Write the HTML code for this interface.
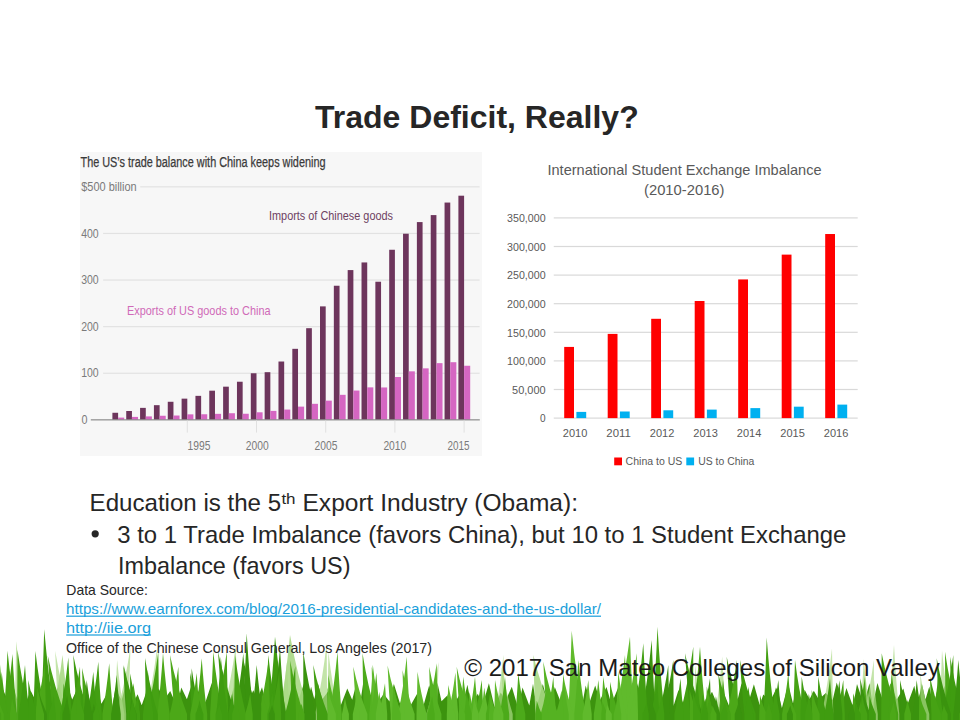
<!DOCTYPE html>
<html><head><meta charset="utf-8"><style>
html,body{margin:0;padding:0;background:#fff;}
svg{display:block;}
text{font-family:"Liberation Sans",sans-serif;white-space:pre;}
</style></head><body>
<svg width="960" height="720" viewBox="0 0 960 720">
<rect width="960" height="720" fill="#ffffff"/>
<text x="315.00" y="127.80" font-size="32" fill="#262626" font-weight="700" text-anchor="start">Trade Deficit, Really?</text>
<rect x="80" y="152" width="402" height="304" fill="#f7f7f7"/>
<text x="80.50" y="167.30" font-size="14" fill="#3a3a3a" font-weight="400" text-anchor="start" textLength="245.0" lengthAdjust="spacingAndGlyphs" stroke="#3a3a3a" stroke-width="0.25">The US&#8217;s trade balance with China keeps widening</text>
<rect x="103.1" y="372.65" width="376.5" height="1.2" fill="#e2e2e2"/>
<rect x="103.1" y="326.05" width="376.5" height="1.2" fill="#e2e2e2"/>
<rect x="103.1" y="279.45" width="376.5" height="1.2" fill="#e2e2e2"/>
<rect x="103.1" y="232.85" width="376.5" height="1.2" fill="#e2e2e2"/>
<rect x="140.2" y="186.25" width="339.4" height="1.2" fill="#e2e2e2"/>
<text x="81.20" y="191.30" font-size="12.6" fill="#7a7a7a" font-weight="400" text-anchor="start" textLength="55.5" lengthAdjust="spacingAndGlyphs">$500 billion</text>
<text x="81.20" y="237.65" font-size="12.6" fill="#7a7a7a" font-weight="400" text-anchor="start" textLength="17.5" lengthAdjust="spacingAndGlyphs">400</text>
<text x="81.20" y="284.25" font-size="12.6" fill="#7a7a7a" font-weight="400" text-anchor="start" textLength="17.5" lengthAdjust="spacingAndGlyphs">300</text>
<text x="81.20" y="330.85" font-size="12.6" fill="#7a7a7a" font-weight="400" text-anchor="start" textLength="17.5" lengthAdjust="spacingAndGlyphs">200</text>
<text x="81.20" y="377.45" font-size="12.6" fill="#7a7a7a" font-weight="400" text-anchor="start" textLength="17.5" lengthAdjust="spacingAndGlyphs">100</text>
<text x="81.50" y="423.65" font-size="12.6" fill="#7a7a7a" font-weight="400" text-anchor="start" textLength="6.0" lengthAdjust="spacingAndGlyphs">0</text>
<rect x="112.40" y="412.77" width="5.7" height="7.08" fill="#6d355c"/>
<rect x="118.10" y="417.61" width="6.1" height="2.24" fill="#d566c2"/>
<rect x="126.24" y="411.00" width="5.7" height="8.85" fill="#6d355c"/>
<rect x="131.94" y="416.91" width="6.1" height="2.94" fill="#d566c2"/>
<rect x="140.08" y="407.87" width="5.7" height="11.98" fill="#6d355c"/>
<rect x="145.78" y="416.40" width="6.1" height="3.45" fill="#d566c2"/>
<rect x="153.92" y="405.17" width="5.7" height="14.68" fill="#6d355c"/>
<rect x="159.62" y="415.75" width="6.1" height="4.10" fill="#d566c2"/>
<rect x="167.76" y="401.77" width="5.7" height="18.08" fill="#6d355c"/>
<rect x="173.46" y="415.52" width="6.1" height="4.33" fill="#d566c2"/>
<rect x="181.60" y="398.65" width="5.7" height="21.20" fill="#6d355c"/>
<rect x="187.30" y="414.35" width="6.1" height="5.50" fill="#d566c2"/>
<rect x="195.44" y="395.85" width="5.7" height="24.00" fill="#6d355c"/>
<rect x="201.14" y="414.26" width="6.1" height="5.59" fill="#d566c2"/>
<rect x="209.28" y="390.68" width="5.7" height="29.17" fill="#6d355c"/>
<rect x="214.98" y="413.84" width="6.1" height="6.01" fill="#d566c2"/>
<rect x="223.12" y="386.67" width="5.7" height="33.18" fill="#6d355c"/>
<rect x="228.82" y="413.23" width="6.1" height="6.62" fill="#d566c2"/>
<rect x="236.96" y="381.73" width="5.7" height="38.12" fill="#6d355c"/>
<rect x="242.66" y="413.75" width="6.1" height="6.10" fill="#d566c2"/>
<rect x="250.80" y="373.25" width="5.7" height="46.60" fill="#6d355c"/>
<rect x="256.50" y="412.30" width="6.1" height="7.55" fill="#d566c2"/>
<rect x="264.64" y="372.18" width="5.7" height="47.67" fill="#6d355c"/>
<rect x="270.34" y="410.90" width="6.1" height="8.95" fill="#d566c2"/>
<rect x="278.48" y="361.51" width="5.7" height="58.34" fill="#6d355c"/>
<rect x="284.18" y="409.55" width="6.1" height="10.30" fill="#d566c2"/>
<rect x="292.32" y="348.83" width="5.7" height="71.02" fill="#6d355c"/>
<rect x="298.02" y="406.62" width="6.1" height="13.23" fill="#d566c2"/>
<rect x="306.16" y="328.19" width="5.7" height="91.66" fill="#6d355c"/>
<rect x="311.86" y="403.82" width="6.1" height="16.03" fill="#d566c2"/>
<rect x="320.00" y="306.38" width="5.7" height="113.47" fill="#6d355c"/>
<rect x="325.70" y="400.65" width="6.1" height="19.20" fill="#d566c2"/>
<rect x="333.84" y="285.74" width="5.7" height="134.11" fill="#6d355c"/>
<rect x="339.54" y="394.83" width="6.1" height="25.02" fill="#d566c2"/>
<rect x="347.68" y="270.08" width="5.7" height="149.77" fill="#6d355c"/>
<rect x="353.38" y="390.54" width="6.1" height="29.31" fill="#d566c2"/>
<rect x="361.52" y="262.44" width="5.7" height="157.41" fill="#6d355c"/>
<rect x="367.22" y="387.37" width="6.1" height="32.48" fill="#d566c2"/>
<rect x="375.36" y="281.73" width="5.7" height="138.12" fill="#6d355c"/>
<rect x="381.06" y="387.46" width="6.1" height="32.39" fill="#d566c2"/>
<rect x="389.20" y="249.76" width="5.7" height="170.09" fill="#6d355c"/>
<rect x="394.90" y="377.02" width="6.1" height="42.83" fill="#d566c2"/>
<rect x="403.04" y="233.73" width="5.7" height="186.12" fill="#6d355c"/>
<rect x="408.74" y="371.34" width="6.1" height="48.51" fill="#d566c2"/>
<rect x="416.88" y="222.08" width="5.7" height="197.77" fill="#6d355c"/>
<rect x="422.58" y="368.36" width="6.1" height="51.49" fill="#d566c2"/>
<rect x="430.72" y="215.09" width="5.7" height="204.76" fill="#6d355c"/>
<rect x="436.42" y="363.14" width="6.1" height="56.71" fill="#d566c2"/>
<rect x="444.56" y="202.55" width="5.7" height="217.30" fill="#6d355c"/>
<rect x="450.26" y="362.21" width="6.1" height="57.64" fill="#d566c2"/>
<rect x="458.40" y="195.70" width="5.7" height="224.15" fill="#6d355c"/>
<rect x="464.10" y="365.75" width="6.1" height="54.10" fill="#d566c2"/>
<rect x="90.8" y="419.25" width="389" height="1.2" fill="#8c8c8c"/>
<rect x="186.80" y="420.55" width="1" height="12" fill="#e0e0e0"/>
<rect x="256.00" y="420.55" width="1" height="12" fill="#e0e0e0"/>
<rect x="325.20" y="420.55" width="1" height="12" fill="#e0e0e0"/>
<rect x="394.40" y="420.55" width="1" height="12" fill="#e0e0e0"/>
<rect x="463.60" y="420.55" width="1" height="12" fill="#e0e0e0"/>
<text x="187.50" y="450.40" font-size="12.6" fill="#7a7a7a" font-weight="400" text-anchor="start" textLength="22.9" lengthAdjust="spacingAndGlyphs">1995</text>
<text x="245.80" y="450.40" font-size="12.6" fill="#7a7a7a" font-weight="400" text-anchor="start" textLength="22.9" lengthAdjust="spacingAndGlyphs">2000</text>
<text x="314.60" y="450.40" font-size="12.6" fill="#7a7a7a" font-weight="400" text-anchor="start" textLength="22.9" lengthAdjust="spacingAndGlyphs">2005</text>
<text x="383.40" y="450.40" font-size="12.6" fill="#7a7a7a" font-weight="400" text-anchor="start" textLength="22.9" lengthAdjust="spacingAndGlyphs">2010</text>
<text x="447.60" y="450.40" font-size="12.6" fill="#7a7a7a" font-weight="400" text-anchor="start" textLength="22.0" lengthAdjust="spacingAndGlyphs">2015</text>
<text x="269.00" y="220.10" font-size="13.4" fill="#6e4262" font-weight="400" text-anchor="start" textLength="124.0" lengthAdjust="spacingAndGlyphs">Imports of Chinese goods</text>
<text x="127.00" y="315.00" font-size="13.4" fill="#d06ab8" font-weight="400" text-anchor="start" textLength="143.5" lengthAdjust="spacingAndGlyphs">Exports of US goods to China</text>
<rect x="553.75" y="417.50" width="303.95" height="1.2" fill="#d9d9d9"/>
<text x="545.60" y="422.40" font-size="11.3" fill="#595959" font-weight="400" text-anchor="end" textLength="5.6" lengthAdjust="spacingAndGlyphs">0</text>
<rect x="553.75" y="388.90" width="303.95" height="1.2" fill="#d9d9d9"/>
<text x="545.60" y="393.80" font-size="11.3" fill="#595959" font-weight="400" text-anchor="end" textLength="33.5" lengthAdjust="spacingAndGlyphs">50,000</text>
<rect x="553.75" y="360.30" width="303.95" height="1.2" fill="#d9d9d9"/>
<text x="545.60" y="365.20" font-size="11.3" fill="#595959" font-weight="400" text-anchor="end" textLength="38.5" lengthAdjust="spacingAndGlyphs">100,000</text>
<rect x="553.75" y="331.70" width="303.95" height="1.2" fill="#d9d9d9"/>
<text x="545.60" y="336.60" font-size="11.3" fill="#595959" font-weight="400" text-anchor="end" textLength="38.5" lengthAdjust="spacingAndGlyphs">150,000</text>
<rect x="553.75" y="303.10" width="303.95" height="1.2" fill="#d9d9d9"/>
<text x="545.60" y="308.00" font-size="11.3" fill="#595959" font-weight="400" text-anchor="end" textLength="38.5" lengthAdjust="spacingAndGlyphs">200,000</text>
<rect x="553.75" y="274.50" width="303.95" height="1.2" fill="#d9d9d9"/>
<text x="545.60" y="279.40" font-size="11.3" fill="#595959" font-weight="400" text-anchor="end" textLength="38.5" lengthAdjust="spacingAndGlyphs">250,000</text>
<rect x="553.75" y="245.90" width="303.95" height="1.2" fill="#d9d9d9"/>
<text x="545.60" y="250.80" font-size="11.3" fill="#595959" font-weight="400" text-anchor="end" textLength="38.5" lengthAdjust="spacingAndGlyphs">300,000</text>
<rect x="553.75" y="217.30" width="303.95" height="1.2" fill="#d9d9d9"/>
<text x="545.60" y="222.20" font-size="11.3" fill="#595959" font-weight="400" text-anchor="end" textLength="38.5" lengthAdjust="spacingAndGlyphs">350,000</text>
<text x="547.50" y="175.40" font-size="14.5" fill="#595959" font-weight="400" text-anchor="start" textLength="274.0" lengthAdjust="spacingAndGlyphs">International Student Exchange Imbalance</text>
<text x="644.00" y="194.80" font-size="14.5" fill="#595959" font-weight="400" text-anchor="start" textLength="80.5" lengthAdjust="spacingAndGlyphs">(2010-2016)</text>
<rect x="564.20" y="346.92" width="9.8" height="71.18" fill="#ff0000"/>
<rect x="576.40" y="411.90" width="9.8" height="6.20" fill="#00b0f0"/>
<text x="575.10" y="437.30" font-size="11.3" fill="#595959" font-weight="400" text-anchor="middle" textLength="24.5" lengthAdjust="spacingAndGlyphs">2010</text>
<rect x="607.70" y="333.89" width="9.8" height="84.21" fill="#ff0000"/>
<rect x="619.90" y="411.50" width="9.8" height="6.60" fill="#00b0f0"/>
<text x="618.60" y="437.30" font-size="11.3" fill="#595959" font-weight="400" text-anchor="middle" textLength="24.5" lengthAdjust="spacingAndGlyphs">2011</text>
<rect x="651.20" y="318.80" width="9.8" height="99.30" fill="#ff0000"/>
<rect x="663.40" y="410.29" width="9.8" height="7.81" fill="#00b0f0"/>
<text x="662.10" y="437.30" font-size="11.3" fill="#595959" font-weight="400" text-anchor="middle" textLength="24.5" lengthAdjust="spacingAndGlyphs">2012</text>
<rect x="694.70" y="301.00" width="9.8" height="117.10" fill="#ff0000"/>
<rect x="706.90" y="409.60" width="9.8" height="8.50" fill="#00b0f0"/>
<text x="705.60" y="437.30" font-size="11.3" fill="#595959" font-weight="400" text-anchor="middle" textLength="24.5" lengthAdjust="spacingAndGlyphs">2013</text>
<rect x="738.20" y="279.42" width="9.8" height="138.68" fill="#ff0000"/>
<rect x="750.40" y="408.11" width="9.8" height="9.99" fill="#00b0f0"/>
<text x="749.10" y="437.30" font-size="11.3" fill="#595959" font-weight="400" text-anchor="middle" textLength="24.5" lengthAdjust="spacingAndGlyphs">2014</text>
<rect x="781.70" y="254.62" width="9.8" height="163.48" fill="#ff0000"/>
<rect x="793.90" y="406.68" width="9.8" height="11.42" fill="#00b0f0"/>
<text x="792.60" y="437.30" font-size="11.3" fill="#595959" font-weight="400" text-anchor="middle" textLength="24.5" lengthAdjust="spacingAndGlyphs">2015</text>
<rect x="825.20" y="234.02" width="9.8" height="184.08" fill="#ff0000"/>
<rect x="837.40" y="404.61" width="9.8" height="13.49" fill="#00b0f0"/>
<text x="836.10" y="437.30" font-size="11.3" fill="#595959" font-weight="400" text-anchor="middle" textLength="24.5" lengthAdjust="spacingAndGlyphs">2016</text>
<rect x="614.2" y="457.5" width="7.8" height="7.8" fill="#ff0000"/>
<text x="625.60" y="465.40" font-size="11.7" fill="#595959" font-weight="400" text-anchor="start" textLength="56.8" lengthAdjust="spacingAndGlyphs">China to US</text>
<rect x="686.3" y="457.5" width="7.8" height="7.8" fill="#00b0f0"/>
<text x="698.30" y="465.40" font-size="11.7" fill="#595959" font-weight="400" text-anchor="start" textLength="56.0" lengthAdjust="spacingAndGlyphs">US to China</text>
<text x="89.60" y="511.25" font-size="24.8" fill="#262626" font-weight="400" text-anchor="start" textLength="191.5" lengthAdjust="spacingAndGlyphs">Education is the 5</text>
<text x="281.40" y="504.40" font-size="15.5" fill="#262626" font-weight="400" text-anchor="start" textLength="14.2" lengthAdjust="spacingAndGlyphs">th</text>
<text x="302.50" y="511.25" font-size="24.8" fill="#262626" font-weight="400" text-anchor="start" textLength="275.5" lengthAdjust="spacingAndGlyphs">Export Industry (Obama):</text>
<circle cx="95.2" cy="533.8" r="3.6" fill="#262626"/>
<text x="117.30" y="542.50" font-size="24.8" fill="#262626" font-weight="400" text-anchor="start" textLength="729.0" lengthAdjust="spacingAndGlyphs">3 to 1 Trade Imbalance (favors China), but 10 to 1 Student Exchange</text>
<text x="118.00" y="573.75" font-size="24.8" fill="#262626" font-weight="400" text-anchor="start" textLength="232.5" lengthAdjust="spacingAndGlyphs">Imbalance (favors US)</text>
<text x="66.30" y="595.30" font-size="14.5" fill="#262626" font-weight="400" text-anchor="start" textLength="81.5" lengthAdjust="spacingAndGlyphs">Data Source:</text>
<text x="66.00" y="614.00" font-size="14.5" fill="#1a9fdb" font-weight="400" text-anchor="start" textLength="535.0" lengthAdjust="spacingAndGlyphs">https://www.earnforex.com/blog/2016-presidential-candidates-and-the-us-dollar/</text>
<rect x="66.2" y="615.6" width="534.8" height="1.2" fill="#1a9fdb"/>
<text x="66.00" y="632.80" font-size="14.5" fill="#1a9fdb" font-weight="400" text-anchor="start" textLength="85.0" lengthAdjust="spacingAndGlyphs">http://iie.org</text>
<rect x="66.2" y="634.4" width="84.8" height="1.2" fill="#1a9fdb"/>
<g>
<polygon points="0,720 -4.0,686.5 -0.4,704.9 2.9,689.5 7.4,699.5 12.4,682.5 17.1,699.6 20.5,687.9 26.8,700.1 30.7,690.8 37.5,704.2 42.1,695.7 45.2,706.7 49.4,684.0 52.9,701.8 59.1,684.5 64.5,704.8 69.0,689.7 72.2,699.5 76.0,691.5 80.7,701.8 86.1,688.3 90.3,706.1 96.1,685.4 101.4,703.7 107.9,692.2 112.0,707.8 115.5,687.9 121.5,700.4 126.5,682.5 132.2,705.9 137.5,694.3 141.7,705.3 147.1,690.1 151.9,706.6 158.7,688.6 164.3,699.5 170.2,691.1 177.1,706.4 181.3,687.4 186.9,699.2 191.8,684.4 195.3,699.5 201.3,683.8 205.3,702.5 211.8,683.1 216.6,703.9 223.1,693.5 229.6,701.5 234.2,687.0 240.8,707.6 244.4,684.5 248.3,701.1 253.3,690.2 257.3,699.0 262.0,687.2 267.2,707.6 273.0,689.2 278.5,705.1 281.7,694.6 287.8,706.9 294.0,687.5 298.6,699.9 304.1,682.9 307.4,700.9 311.1,686.8 314.3,699.0 317.9,683.4 322.3,699.2 328.8,690.6 332.4,701.3 336.8,687.1 340.3,706.6 347.3,688.5 352.2,699.8 355.6,686.8 359.7,706.5 363.3,682.3 370.1,703.8 373.7,689.6 376.8,703.8 383.7,694.1 389.5,701.4 394.0,684.3 400.1,703.8 406.2,686.6 410.1,706.3 417.0,693.9 423.2,706.4 429.2,685.2 434.3,702.2 437.4,682.4 441.5,701.3 447.3,695.4 452.1,707.4 459.0,695.4 463.5,701.0 467.4,684.8 471.2,704.6 477.8,693.8 482.7,704.9 488.9,683.2 494.6,707.2 500.7,692.5 505.6,700.6 511.8,686.7 518.0,707.7 522.5,687.6 529.3,705.5 533.0,683.8 536.6,707.1 542.8,684.0 549.2,707.8 554.8,686.9 560.0,700.2 563.0,695.6 568.6,703.7 575.4,688.1 581.9,706.4 585.7,685.5 589.9,701.2 595.2,685.6 599.9,700.2 606.5,687.0 611.4,704.3 618.0,687.9 624.7,703.5 629.8,689.3 632.9,703.0 636.6,682.1 642.8,700.6 647.7,692.2 652.9,701.9 658.0,689.8 664.1,700.0 669.4,685.5 673.5,706.0 678.5,689.9 684.5,707.2 689.3,690.6 694.3,703.6 700.1,688.3 705.2,703.3 712.0,691.8 718.5,707.5 722.5,689.8 729.3,706.6 732.9,683.7 737.6,699.7 741.6,683.0 747.3,706.1 753.9,684.2 759.7,704.9 763.3,694.4 770.2,701.0 777.0,687.6 781.9,707.9 788.3,684.3 793.0,703.6 797.3,684.7 801.6,705.5 804.7,689.8 809.5,699.2 813.8,690.7 818.8,699.6 825.8,693.0 832.7,699.9 836.7,682.6 842.8,701.4 846.4,687.9 853.0,706.4 857.0,684.1 863.7,704.1 869.5,683.3 872.7,705.2 877.4,683.0 884.2,704.7 890.4,683.2 896.8,699.6 903.3,688.4 907.6,704.0 914.3,685.8 917.9,703.7 921.8,683.5 925.5,699.5 929.3,686.4 933.5,705.8 937.6,689.0 941.4,702.1 944.4,685.5 947.5,705.6 952.7,684.7 957.6,707.4 961.0,693.5 965.7,703.5 964,720" fill="#3c930e"/>
<path d="M887.5,720 L887.5,714 Q891.4,683.0 894.0,645.1 Q896.1,683.0 899.3,714 L899.3,720Z" fill="#a9d884" fill-opacity="0.7"/>
<path d="M327.2,720 L327.2,714 Q327.9,686.1 328.4,651.9 Q332.4,686.1 338.4,714 L338.4,720Z" fill="#a9d884" fill-opacity="0.7"/>
<path d="M939.3,720 L939.3,714 Q940.9,685.4 942.0,650.4 Q945.5,685.4 950.7,714 L950.7,720Z" fill="#a9d884" fill-opacity="0.7"/>
<path d="M280.1,720 L280.1,714 Q284.1,690.7 286.8,662.3 Q288.2,690.7 290.3,714 L290.3,720Z" fill="#a9d884" fill-opacity="0.7"/>
<path d="M145.5,720 L145.5,714 Q152.6,683.6 157.3,646.5 Q157.3,683.6 157.3,714 L157.3,720Z" fill="#a9d884" fill-opacity="0.7"/>
<path d="M864.0,720 L864.0,714 Q869.9,689.6 873.8,659.9 Q874.0,689.6 874.4,714 L874.4,720Z" fill="#a9d884" fill-opacity="0.7"/>
<path d="M869.4,720 L869.4,714 Q872.2,698.6 874.1,679.9 Q875.5,698.6 877.8,714 L877.8,720Z" fill="#a9d884" fill-opacity="0.7"/>
<path d="M116.5,720 L116.5,714 Q124.8,684.2 130.4,647.7 Q129.5,684.2 128.1,714 L128.1,720Z" fill="#a9d884" fill-opacity="0.7"/>
<path d="M315.2,720 L315.2,714 Q322.1,682.3 326.7,643.6 Q326.9,682.3 327.2,714 L327.2,720Z" fill="#a9d884" fill-opacity="0.7"/>
<path d="M246.5,720 L246.5,714 Q246.0,691.0 245.6,662.8 Q250.0,691.0 256.6,714 L256.6,720Z" fill="#a9d884" fill-opacity="0.7"/>
<path d="M715.3,720 L715.3,714 Q719.4,688.1 722.2,656.5 Q723.7,688.1 726.1,714 L726.1,720Z" fill="#a9d884" fill-opacity="0.7"/>
<path d="M495.1,720 L495.1,714 Q500.1,687.5 503.4,655.1 Q504.5,687.5 506.0,714 L506.0,720Z" fill="#a9d884" fill-opacity="0.7"/>
<path d="M58.4,720 L58.4,714 Q56.5,685.7 55.2,651.1 Q61.0,685.7 69.7,714 L69.7,720Z" fill="#a9d884" fill-opacity="0.7"/>
<path d="M114.0,720 L114.0,714 Q115.9,689.8 117.1,660.1 Q120.0,689.8 124.4,714 L124.4,720Z" fill="#a9d884" fill-opacity="0.7"/>
<path d="M821.7,720 L821.7,714 Q827.9,684.6 832.0,648.6 Q832.5,684.6 833.3,714 L833.3,720Z" fill="#a9d884" fill-opacity="0.7"/>
<path d="M229.7,720 L229.7,714 Q233.5,687.9 236.0,656.0 Q237.8,687.9 240.5,714 L240.5,720Z" fill="#a9d884" fill-opacity="0.7"/>
<path d="M920.3,720 L920.3,714 Q920.3,696.0 920.3,673.9 Q923.9,696.0 929.3,714 L929.3,720Z" fill="#a9d884" fill-opacity="0.7"/>
<path d="M14.6,720 L14.6,714 Q15.5,681.3 16.2,641.3 Q20.4,681.3 26.9,714 L26.9,720Z" fill="#a9d884" fill-opacity="0.7"/>
<path d="M860.0,720 L860.0,714 Q862.3,689.2 863.8,658.9 Q866.5,689.2 870.5,714 L870.5,720Z" fill="#a9d884" fill-opacity="0.7"/>
<path d="M-2.8,720 L-2.8,714 Q-4.0,687.7 -4.8,655.7 Q0.3,687.7 8.1,714 L8.1,720Z" fill="#a9d884" fill-opacity="0.7"/>
<path d="M797.0,720 L797.0,714 Q796.3,696.1 795.8,674.2 Q799.9,696.1 805.9,714 L805.9,720Z" fill="#a9d884" fill-opacity="0.7"/>
<path d="M222.8,720 L222.8,714 Q230.7,682.7 236.0,644.4 Q235.5,682.7 234.8,714 L234.8,720Z" fill="#a9d884" fill-opacity="0.7"/>
<path d="M503.0,720 L503.0,714 Q502.2,693.0 501.7,667.3 Q506.1,693.0 512.7,714 L512.7,720Z" fill="#a9d884" fill-opacity="0.7"/>
<path d="M694.0,720 L694.0,714 Q694.6,692.4 695.1,665.9 Q698.6,692.4 703.8,714 L703.8,720Z" fill="#a9d884" fill-opacity="0.7"/>
<path d="M426.3,720 L426.3,714 Q433.7,690.6 438.6,662.1 Q437.8,690.6 436.5,714 L436.5,720Z" fill="#a9d884" fill-opacity="0.7"/>
<path d="M652.5,720 L652.5,714 Q655.5,674.7 657.5,626.7 Q660.3,674.7 664.5,714 L664.5,720Z" fill="#46a214"/>
<path d="M41.0,720 L41.0,714 Q42.9,675.8 44.2,629.2 Q48.3,675.8 54.5,714 L54.5,720Z" fill="#3f9c10"/>
<path d="M568.1,720 L568.1,714 Q570.3,676.6 571.7,630.8 Q576.3,676.6 583.1,714 L583.1,720Z" fill="#60ba2c"/>
<path d="M242.5,720 L242.5,714 Q245.0,677.7 246.7,633.3 Q249.4,677.7 253.5,714 L253.5,720Z" fill="#3a930e"/>
<path d="M279.4,720 L279.4,714 Q285.8,678.5 290.0,635.0 Q297.9,678.5 309.8,714 L309.8,720Z" fill="#a9d884" fill-opacity="0.9"/>
<path d="M268.5,720 L268.5,714 Q272.4,679.2 275.0,636.7 Q279.5,679.2 286.4,714 L286.4,720Z" fill="#3f9c10"/>
<path d="M615.6,720 L615.6,714 Q624.3,679.2 630.0,636.7 Q631.4,679.2 633.5,714 L633.5,720Z" fill="#60ba2c"/>
<path d="M763.5,720 L763.5,714 Q765.4,679.6 766.7,637.5 Q769.8,679.6 774.5,714 L774.5,720Z" fill="#429f12"/>
<path d="M641.6,720 L641.6,714 Q647.7,680.7 651.7,640.0 Q653.2,680.7 655.5,714 L655.5,720Z" fill="#3a930e"/>
<path d="M634.2,720 L634.2,714 Q639.7,682.2 643.3,643.3 Q645.1,682.2 647.7,714 L647.7,720Z" fill="#429f12"/>
<path d="M680.1,720 L680.1,714 Q688.0,683.7 693.3,646.7 Q693.2,683.7 693.1,714 L693.1,720Z" fill="#429f12"/>
<path d="M692.8,720 L692.8,714 Q697.1,683.7 700.0,646.7 Q702.4,683.7 705.9,714 L705.9,720Z" fill="#4ca818"/>
<path d="M272.5,720 L272.5,714 Q277.0,684.4 280.0,648.3 Q282.1,684.4 285.4,714 L285.4,720Z" fill="#3a930e"/>
<path d="M17.1,720 L17.1,714 Q17.4,685.2 17.5,650.0 Q22.4,685.2 29.8,714 L29.8,720Z" fill="#46a214"/>
<path d="M3.9,720 L3.9,714 Q6.1,685.6 7.5,650.8 Q11.1,685.6 16.5,714 L16.5,720Z" fill="#46a214"/>
<path d="M33.2,720 L33.2,714 Q34.5,685.7 35.4,651.0 Q39.5,685.7 45.7,714 L45.7,720Z" fill="#3f9c10"/>
<path d="M223.6,720 L223.6,714 Q220.3,685.8 218.0,651.4 Q225.3,685.8 236.1,714 L236.1,720Z" fill="#3a930e"/>
<path d="M146.9,720 L146.9,714 Q153.7,686.0 158.3,651.7 Q158.7,686.0 159.3,714 L159.3,720Z" fill="#46a214"/>
<path d="M210.1,720 L210.1,714 Q212.0,686.0 213.3,651.7 Q217.0,686.0 222.6,714 L222.6,720Z" fill="#4ca818"/>
<path d="M215.7,720 L215.7,714 Q222.3,686.0 226.7,651.7 Q227.3,686.0 228.2,714 L228.2,720Z" fill="#46a214"/>
<path d="M303.3,720 L303.3,714 Q303.3,686.0 303.3,651.7 Q308.3,686.0 315.8,714 L315.8,720Z" fill="#3a930e"/>
<path d="M329.3,720 L329.3,714 Q334.2,686.0 337.5,651.7 Q339.2,686.0 341.7,714 L341.7,720Z" fill="#55b222"/>
<path d="M945.5,720 L945.5,714 Q945.2,686.0 945.0,651.7 Q950.2,686.0 958.0,714 L958.0,720Z" fill="#4ca818"/>
<path d="M157.4,720 L157.4,714 Q160.7,686.5 163.0,653.0 Q165.7,686.5 169.7,714 L169.7,720Z" fill="#4ca818"/>
<path d="M234.7,720 L234.7,714 Q239.9,686.7 243.3,653.3 Q244.8,686.7 247.0,714 L247.0,720Z" fill="#3a930e"/>
<path d="M363.7,720 L363.7,714 Q363.0,686.7 362.5,653.3 Q367.9,686.7 376.0,714 L376.0,720Z" fill="#4caa1a"/>
<path d="M625.7,720 L625.7,714 Q632.3,686.7 636.7,653.3 Q637.2,686.7 638.0,714 L638.0,720Z" fill="#60ba2c"/>
<path d="M690.4,720 L690.4,714 Q687.2,686.7 685.0,653.3 Q692.1,686.7 702.7,714 L702.7,720Z" fill="#3a930e"/>
<path d="M881.2,720 L881.2,714 Q881.5,686.7 881.7,653.3 Q888.2,686.7 898.0,714 L898.0,720Z" fill="#46a214"/>
<path d="M4.6,720 L4.6,714 Q9.3,687.0 12.5,654.0 Q14.2,687.0 16.8,714 L16.8,720Z" fill="#46a214"/>
<path d="M52.5,720 L52.5,714 Q58.5,687.5 62.5,655.0 Q65.5,687.5 70.1,714 L70.1,720Z" fill="#a9d884" fill-opacity="0.9"/>
<path d="M77.1,720 L77.1,714 Q74.8,687.5 73.3,655.0 Q79.7,687.5 89.2,714 L89.2,720Z" fill="#3f9c10"/>
<path d="M174.9,720 L174.9,714 Q172.0,687.5 170.0,655.0 Q176.8,687.5 187.0,714 L187.0,720Z" fill="#4ca818"/>
<path d="M233.9,720 L233.9,714 Q234.5,687.5 235.0,655.0 Q239.4,687.5 245.9,714 L245.9,720Z" fill="#46a214"/>
<path d="M264.9,720 L264.9,714 Q267.0,687.5 268.3,655.0 Q271.8,687.5 277.0,714 L277.0,720Z" fill="#3f9c10"/>
<path d="M535.4,720 L535.4,714 Q534.1,687.5 533.3,655.0 Q541.2,687.5 553.0,714 L553.0,720Z" fill="#a9d884" fill-opacity="0.9"/>
<path d="M615.7,720 L615.7,714 Q621.3,687.5 625.0,655.0 Q626.1,687.5 627.7,714 L627.7,720Z" fill="#60ba2c"/>
<path d="M942.3,720 L942.3,714 Q948.9,687.5 953.3,655.0 Q953.7,687.5 954.4,714 L954.4,720Z" fill="#3f9c10"/>
<path d="M52.9,720 L52.9,714 Q49.8,687.8 47.8,655.8 Q54.6,687.8 64.9,714 L64.9,720Z" fill="#46a214"/>
<path d="M216.3,720 L216.3,714 Q219.0,688.2 220.8,656.7 Q223.7,688.2 228.1,714 L228.1,720Z" fill="#3f9c10"/>
<path d="M398.2,720 L398.2,714 Q403.3,688.2 406.7,656.7 Q408.0,688.2 410.1,714 L410.1,720Z" fill="#60ba2c"/>
<path d="M730.5,720 L730.5,714 Q728.2,688.2 726.7,656.7 Q733.0,688.2 742.3,714 L742.3,720Z" fill="#3a930e"/>
<path d="M951.1,720 L951.1,714 Q950.6,688.2 950.2,656.7 Q955.3,688.2 963.0,714 L963.0,720Z" fill="#3f9c10"/>
<path d="M247.2,720 L247.2,714 Q244.6,688.5 242.9,657.3 Q249.4,688.5 259.0,714 L259.0,720Z" fill="#3a930e"/>
<path d="M60.0,720 L60.0,714 Q65.0,688.6 68.3,657.5 Q69.7,688.6 71.8,714 L71.8,720Z" fill="#429f12"/>
<path d="M146.1,720 L146.1,714 Q145.4,688.8 145.0,658.0 Q150.1,688.8 157.8,714 L157.8,720Z" fill="#3f9c10"/>
<path d="M195.5,720 L195.5,714 Q199.2,688.9 201.7,658.3 Q203.9,688.9 207.2,714 L207.2,720Z" fill="#4ca818"/>
<path d="M939.3,720 L939.3,714 Q937.7,688.9 936.7,658.3 Q942.4,688.9 951.0,714 L951.0,720Z" fill="#3a930e"/>
<path d="M574.3,720 L574.3,714 Q576.7,689.7 578.3,660.0 Q581.3,689.7 585.8,714 L585.8,720Z" fill="#55b222"/>
<path d="M662.2,720 L662.2,714 Q668.9,689.7 673.3,660.0 Q673.5,689.7 673.7,714 L673.7,720Z" fill="#3a930e"/>
<path d="M726.9,720 L726.9,714 Q732.8,689.7 736.7,660.0 Q737.4,689.7 738.3,714 L738.3,720Z" fill="#4ca818"/>
<path d="M744.3,720 L744.3,714 Q741.7,689.7 740.0,660.0 Q746.3,689.7 755.8,714 L755.8,720Z" fill="#3f9c10"/>
<path d="M793.0,720 L793.0,714 Q794.2,689.7 795.0,660.0 Q798.8,689.7 804.4,714 L804.4,720Z" fill="#46a214"/>
<path d="M953.3,720 L953.3,714 Q956.3,689.7 958.3,660.0 Q960.9,689.7 964.8,714 L964.8,720Z" fill="#3a930e"/>
<path d="M292.3,720 L292.3,714 Q291.0,689.9 290.1,660.5 Q295.5,689.9 303.7,714 L303.7,720Z" fill="#4ca818"/>
<path d="M258.9,720 L258.9,714 Q264.6,690.1 268.5,660.9 Q269.2,690.1 270.2,714 L270.2,720Z" fill="#4ca818"/>
<path d="M90.5,720 L90.5,714 Q95.2,690.5 98.3,661.7 Q99.7,690.5 101.8,714 L101.8,720Z" fill="#429f12"/>
<path d="M546.9,720 L546.9,714 Q544.7,690.5 543.3,661.7 Q549.2,690.5 558.1,714 L558.1,720Z" fill="#55b222"/>
<path d="M-6.0,720 L-6.0,714 Q-2.5,690.5 -0.2,661.9 Q2.0,690.5 5.3,714 L5.3,720Z" fill="#4ca818"/>
<path d="M34.8,720 L34.8,714 Q40.9,691.0 45.0,663.0 Q45.4,691.0 45.9,714 L45.9,720Z" fill="#4ca818"/>
<path d="M102.4,720 L102.4,714 Q106.5,691.2 109.2,663.3 Q110.9,691.2 113.4,714 L113.4,720Z" fill="#4ca818"/>
<path d="M426.7,720 L426.7,714 Q432.7,691.2 436.7,663.3 Q437.1,691.2 437.8,714 L437.8,720Z" fill="#55b222"/>
<path d="M369.3,720 L369.3,714 Q371.4,691.8 372.8,664.7 Q375.8,691.8 380.2,714 L380.2,720Z" fill="#55b222"/>
<path d="M18.4,720 L18.4,714 Q22.4,692.0 25.0,665.0 Q26.7,692.0 29.3,714 L29.3,720Z" fill="#3f9c10"/>
<path d="M126.2,720 L126.2,714 Q124.4,692.0 123.3,665.0 Q128.8,692.0 137.0,714 L137.0,720Z" fill="#3a930e"/>
<path d="M251.7,720 L251.7,714 Q254.7,692.0 256.7,665.0 Q259.1,692.0 262.6,714 L262.6,720Z" fill="#3a930e"/>
<path d="M317.0,720 L317.0,714 Q314.8,692.0 313.3,665.0 Q319.1,692.0 327.9,714 L327.9,720Z" fill="#429f12"/>
<path d="M658.6,720 L658.6,714 Q664.4,692.0 668.3,665.0 Q668.8,692.0 669.5,714 L669.5,720Z" fill="#3a930e"/>
<path d="M390.7,720 L390.7,714 Q388.8,692.2 387.6,665.6 Q393.1,692.2 401.5,714 L401.5,720Z" fill="#60ba2c"/>
<path d="M285.1,720 L285.1,714 Q291.2,692.4 295.3,666.0 Q295.5,692.4 295.9,714 L295.9,720Z" fill="#429f12"/>
<path d="M127.1,720 L127.1,714 Q125.3,692.5 124.1,666.2 Q129.6,692.5 137.8,714 L137.8,720Z" fill="#3f9c10"/>
<path d="M70.3,720 L70.3,714 Q76.1,692.7 80.0,666.7 Q80.4,692.7 81.0,714 L81.0,720Z" fill="#46a214"/>
<path d="M169.8,720 L169.8,714 Q174.9,692.7 178.3,666.7 Q179.2,692.7 180.4,714 L180.4,720Z" fill="#4ca818"/>
<path d="M356.8,720 L356.8,714 Q354.7,692.7 353.3,666.7 Q359.0,692.7 367.4,714 L367.4,720Z" fill="#60ba2c"/>
<path d="M372.8,720 L372.8,714 Q372.2,692.7 371.7,666.7 Q376.4,692.7 383.5,714 L383.5,720Z" fill="#60ba2c"/>
<path d="M430.7,720 L430.7,714 Q429.8,692.7 429.2,666.7 Q434.1,692.7 441.4,714 L441.4,720Z" fill="#55b222"/>
<path d="M459.8,720 L459.8,714 Q457.9,692.7 456.7,666.7 Q462.2,692.7 470.5,714 L470.5,720Z" fill="#55b222"/>
<path d="M-13.8,720 L-13.8,714 Q-7.9,692.9 -4.0,667.2 Q-3.7,692.9 -3.2,714 L-3.2,720Z" fill="#3a930e"/>
<path d="M83.6,720 L83.6,714 Q82.7,693.3 82.1,668.0 Q86.9,693.3 94.1,714 L94.1,720Z" fill="#46a214"/>
<path d="M190.2,720 L190.2,714 Q191.1,693.4 191.7,668.3 Q195.3,693.4 200.7,714 L200.7,720Z" fill="#3a930e"/>
<path d="M404.3,720 L404.3,714 Q403.2,694.2 402.5,670.0 Q407.3,694.2 414.6,714 L414.6,720Z" fill="#60ba2c"/>
<path d="M143.0,720 L143.0,714 Q145.9,694.2 147.8,670.1 Q150.0,694.2 153.3,714 L153.3,720Z" fill="#429f12"/>
<path d="M270.9,720 L270.9,714 Q275.9,694.5 279.3,670.7 Q280.0,694.5 281.1,714 L281.1,720Z" fill="#46a214"/>
<path d="M-2.6,720 L-2.6,714 Q-0.0,695.0 1.7,671.7 Q4.0,695.0 7.5,714 L7.5,720Z" fill="#46a214"/>
<path d="M87.2,720 L87.2,714 Q90.8,695.0 93.3,671.7 Q94.9,695.0 97.2,714 L97.2,720Z" fill="#3f9c10"/>
<path d="M416.5,720 L416.5,714 Q417.1,695.0 417.5,671.7 Q421.1,695.0 426.6,714 L426.6,720Z" fill="#60ba2c"/>
<path d="M616.0,720 L616.0,714 Q617.4,695.0 618.3,671.7 Q621.4,695.0 626.1,714 L626.1,720Z" fill="#60ba2c"/>
<path d="M448.3,720 L448.3,714 Q452.6,695.4 455.4,672.6 Q456.5,695.4 458.2,714 L458.2,720Z" fill="#60ba2c"/>
<path d="M191.8,720 L191.8,714 Q190.7,695.4 190.0,672.7 Q194.7,695.4 201.7,714 L201.7,720Z" fill="#3f9c10"/>
<path d="M370.5,720 L370.5,714 Q374.0,695.5 376.3,672.8 Q377.9,695.5 380.4,714 L380.4,720Z" fill="#55b222"/>
<path d="M190.2,720 L190.2,714 Q194.1,695.5 196.7,673.0 Q198.1,695.5 200.1,714 L200.1,720Z" fill="#4ca818"/>
<path d="M515.4,720 L515.4,714 Q517.1,695.7 518.3,673.3 Q521.1,695.7 525.3,714 L525.3,720Z" fill="#4caa1a"/>
<path d="M721.2,720 L721.2,714 Q719.4,695.7 718.3,673.3 Q723.4,695.7 731.0,714 L731.0,720Z" fill="#46a214"/>
<path d="M782.1,720 L782.1,714 Q785.8,695.7 788.3,673.3 Q789.8,695.7 792.0,714 L792.0,720Z" fill="#4ca818"/>
<path d="M888.3,720 L888.3,714 Q890.3,695.7 891.7,673.3 Q894.3,695.7 898.2,714 L898.2,720Z" fill="#46a214"/>
<path d="M130.2,720 L130.2,714 Q130.2,695.8 130.1,673.6 Q134.1,695.8 140.1,714 L140.1,720Z" fill="#3f9c10"/>
<path d="M563.5,720 L563.5,714 Q563.2,695.9 563.0,673.8 Q567.1,695.9 573.3,714 L573.3,720Z" fill="#60ba2c"/>
<path d="M933.1,720 L933.1,714 Q936.3,696.3 938.4,674.6 Q940.2,696.3 942.8,714 L942.8,720Z" fill="#429f12"/>
<path d="M111.1,720 L111.1,714 Q114.5,696.5 116.7,675.0 Q118.3,696.5 120.8,714 L120.8,720Z" fill="#3a930e"/>
<path d="M328.2,720 L328.2,714 Q328.3,696.5 328.3,675.0 Q332.1,696.5 337.9,714 L337.9,720Z" fill="#55b222"/>
<path d="M459.7,720 L459.7,714 Q461.9,697.2 463.3,676.7 Q465.7,697.2 469.2,714 L469.2,720Z" fill="#55b222"/>
<path d="M469.3,720 L469.3,714 Q472.7,697.2 475.0,676.7 Q476.5,697.2 478.8,714 L478.8,720Z" fill="#55b222"/>
<path d="M499.7,720 L499.7,714 Q502.9,697.2 505.0,676.7 Q506.7,697.2 509.2,714 L509.2,720Z" fill="#4caa1a"/>
<path d="M546.9,720 L546.9,714 Q550.8,697.2 553.3,676.7 Q554.5,697.2 556.4,714 L556.4,720Z" fill="#55b222"/>
<path d="M559.3,720 L559.3,714 Q561.7,697.2 563.3,676.7 Q565.5,697.2 568.7,714 L568.7,720Z" fill="#55b222"/>
<path d="M600.5,720 L600.5,714 Q602.2,697.2 603.3,676.7 Q606.0,697.2 610.0,714 L610.0,720Z" fill="#55b222"/>
<path d="M800.5,720 L800.5,714 Q801.2,697.2 801.7,676.7 Q805.0,697.2 810.0,714 L810.0,720Z" fill="#3f9c10"/>
<path d="M817.1,720 L817.1,714 Q817.8,697.2 818.3,676.7 Q821.6,697.2 826.6,714 L826.6,720Z" fill="#3f9c10"/>
<path d="M857.7,720 L857.7,714 Q862.1,697.2 865.0,676.7 Q865.9,697.2 867.2,714 L867.2,720Z" fill="#4ca818"/>
<path d="M931.4,720 L931.4,714 Q930.6,697.2 930.0,676.7 Q934.4,697.2 940.9,714 L940.9,720Z" fill="#46a214"/>
<path d="M861.0,720 L861.0,714 Q860.5,697.9 860.2,678.2 Q864.2,697.9 870.3,714 L870.3,720Z" fill="#3a930e"/>
<path d="M702.2,720 L702.2,714 Q706.9,697.9 710.0,678.3 Q710.6,697.9 711.5,714 L711.5,720Z" fill="#3a930e"/>
<path d="M824.3,720 L824.3,714 Q827.7,697.9 830.0,678.3 Q831.4,697.9 833.6,714 L833.6,720Z" fill="#3f9c10"/>
<path d="M674.4,720 L674.4,714 Q678.1,698.1 680.5,678.6 Q681.8,698.1 683.6,714 L683.6,720Z" fill="#429f12"/>
<path d="M691.4,720 L691.4,714 Q695.0,698.2 697.4,678.9 Q698.7,698.2 700.6,714 L700.6,720Z" fill="#3f9c10"/>
<path d="M718.9,720 L718.9,714 Q721.4,698.5 723.0,679.6 Q725.0,698.5 728.0,714 L728.0,720Z" fill="#46a214"/>
<path d="M83.3,720 L83.3,714 Q85.4,698.7 86.7,680.0 Q89.0,698.7 92.4,714 L92.4,720Z" fill="#3a930e"/>
<path d="M28.3,720 L28.3,714 Q28.3,698.7 28.3,680.0 Q31.9,698.7 37.3,714 L37.3,720Z" fill="#3f9c10"/>
<path d="M474.8,720 L474.8,714 Q479.0,698.7 481.7,680.0 Q482.6,698.7 483.9,714 L483.9,720Z" fill="#4caa1a"/>
<path d="M494.3,720 L494.3,714 Q494.7,698.7 495.0,680.0 Q498.4,698.7 503.4,714 L503.4,720Z" fill="#60ba2c"/>
<path d="M582.6,720 L582.6,714 Q586.0,698.7 588.3,680.0 Q589.6,698.7 591.7,714 L591.7,720Z" fill="#60ba2c"/>
<path d="M593.8,720 L593.8,714 Q596.5,698.7 598.3,680.0 Q600.1,698.7 602.9,714 L602.9,720Z" fill="#55b222"/>
<path d="M772.4,720 L772.4,714 Q776.0,698.7 778.3,680.0 Q779.6,698.7 781.5,714 L781.5,720Z" fill="#3a930e"/>
<path d="M835.8,720 L835.8,714 Q840.3,698.7 843.3,680.0 Q843.9,698.7 844.8,714 L844.8,720Z" fill="#46a214"/>
<path d="M900.4,720 L900.4,714 Q900.1,698.7 900.0,680.0 Q903.8,698.7 909.5,714 L909.5,720Z" fill="#3a930e"/>
<path d="M912.9,720 L912.9,714 Q915.2,698.7 916.7,680.0 Q918.8,698.7 922.0,714 L922.0,720Z" fill="#3a930e"/>
<path d="M833.4,720 L833.4,714 Q837.0,698.8 839.4,680.2 Q840.6,698.8 842.4,714 L842.4,720Z" fill="#3a930e"/>
<path d="M650.4,720 L650.4,714 Q654.6,699.2 657.4,681.2 Q658.2,699.2 659.4,714 L659.4,720Z" fill="#3f9c10"/>
<path d="M610.0,720 L610.0,714 Q610.0,699.5 610.0,681.7 Q613.6,699.5 618.9,714 L618.9,720Z" fill="#4caa1a"/>
<path d="M130.3,720 L130.3,714 Q132.1,700.0 133.3,683.0 Q135.6,700.0 139.1,714 L139.1,720Z" fill="#4ca818"/>
<path d="M378.5,720 L378.5,714 Q382.4,700.2 385.0,683.3 Q385.9,700.2 387.2,714 L387.2,720Z" fill="#60ba2c"/>
<path d="M392.0,720 L392.0,714 Q392.8,700.2 393.3,683.3 Q396.3,700.2 400.7,714 L400.7,720Z" fill="#55b222"/>
<path d="M62.1,720 L62.1,714 Q63.0,700.2 63.6,683.3 Q66.5,700.2 70.8,714 L70.8,720Z" fill="#3f9c10"/>
<path d="M446.8,720 L446.8,714 Q447.7,701.0 448.3,685.0 Q451.1,701.0 455.3,714 L455.3,720Z" fill="#60ba2c"/>
<path d="M705.7,720 L705.7,714 Q706.4,701.6 706.8,686.5 Q709.7,701.6 714.0,714 L714.0,720Z" fill="#4ca818"/>
<path d="M38.7,720 L38.7,714 Q38.0,701.7 37.5,686.7 Q41.3,701.7 47.0,714 L47.0,720Z" fill="#3a930e"/>
<path d="M744.9,720 L744.9,714 Q746.9,701.7 748.3,686.7 Q750.2,701.7 753.1,714 L753.1,720Z" fill="#3f9c10"/>
<path d="M771.3,720 L771.3,714 Q773.8,701.9 775.5,687.2 Q777.1,701.9 779.5,714 L779.5,720Z" fill="#429f12"/>
<path d="M327.7,720 L327.7,714 Q327.5,702.1 327.4,687.5 Q330.8,702.1 335.9,714 L335.9,720Z" fill="#60ba2c"/>
<path d="M480.8,720 L480.8,714 Q482.9,702.1 484.2,687.6 Q486.1,702.1 489.0,714 L489.0,720Z" fill="#60ba2c"/>
<path d="M35.9,720 L35.9,714 Q36.8,702.1 37.5,687.6 Q40.1,702.1 44.0,714 L44.0,720Z" fill="#4ca818"/>
<path d="M76.0,720 L76.0,714 Q76.6,702.2 77.0,687.9 Q79.8,702.2 84.1,714 L84.1,720Z" fill="#46a214"/>
<path d="M690.0,720 L690.0,714 Q689.7,703.0 689.5,689.6 Q692.9,703.0 697.9,714 L697.9,720Z" fill="#4ca818"/>
<path d="M811.9,720 L811.9,714 Q811.8,703.2 811.7,690.0 Q814.9,703.2 819.7,714 L819.7,720Z" fill="#4ca818"/>
<path d="M556.0,720 L556.0,714 Q559.3,703.3 561.5,690.2 Q562.5,703.3 563.9,714 L563.9,720Z" fill="#55b222"/>
<path d="M375.8,720 L375.8,714 Q377.9,704.0 379.2,691.7 Q380.9,704.0 383.5,714 L383.5,720Z" fill="#60ba2c"/>
<path d="M466.6,720 L466.6,714 Q468.4,704.1 469.6,692.0 Q471.5,704.1 474.3,714 L474.3,720Z" fill="#55b222"/>
<path d="M540.6,720 L540.6,714 Q543.7,704.2 545.7,692.2 Q546.7,704.2 548.2,714 L548.2,720Z" fill="#55b222"/>
<path d="M464.2,720 L464.2,714 Q465.6,704.3 466.6,692.3 Q468.6,704.3 471.8,714 L471.8,720Z" fill="#4caa1a"/>
<path d="M261.1,720 L261.1,714 Q261.6,704.4 261.9,692.7 Q264.6,704.4 268.7,714 L268.7,720Z" fill="#4ca818"/>
<path d="M267.3,720 L267.3,714 Q270.5,704.4 272.6,692.7 Q273.5,704.4 274.8,714 L274.8,720Z" fill="#429f12"/>
<path d="M693.0,720 L693.0,714 Q693.0,704.4 693.0,692.7 Q696.0,704.4 700.6,714 L700.6,720Z" fill="#429f12"/>
<path d="M629.7,720 L629.7,714 Q632.6,704.5 634.5,692.9 Q635.6,704.5 637.3,714 L637.3,720Z" fill="#60ba2c"/>
<path d="M485.9,720 L485.9,714 Q488.4,704.5 490.0,693.0 Q491.4,704.5 493.4,714 L493.4,720Z" fill="#4caa1a"/>
<path d="M613.7,720 L613.7,714 Q616.6,704.6 618.5,693.1 Q619.6,704.6 621.2,714 L621.2,720Z" fill="#55b222"/>
<path d="M245.2,720 L245.2,714 Q248.3,704.7 250.3,693.3 Q251.3,704.7 252.7,714 L252.7,720Z" fill="#4ca818"/>
<path d="M852.2,720 L852.2,714 Q852.8,704.7 853.3,693.3 Q855.8,704.7 859.7,714 L859.7,720Z" fill="#46a214"/>
<path d="M228.2,720 L228.2,714 Q230.5,704.8 232.1,693.5 Q233.5,704.8 235.7,714 L235.7,720Z" fill="#3f9c10"/>
<path d="M447.5,720 L447.5,714 Q447.4,704.8 447.3,693.7 Q450.4,704.8 455.0,714 L455.0,720Z" fill="#60ba2c"/>
<path d="M805.1,720 L805.1,714 Q807.4,704.9 808.9,693.7 Q810.4,704.9 812.5,714 L812.5,720Z" fill="#429f12"/>
<path d="M919.0,720 L919.0,714 Q919.1,704.9 919.2,693.9 Q922.1,704.9 926.4,714 L926.4,720Z" fill="#4ca818"/>
<path d="M657.0,720 L657.0,714 Q660.0,705.1 662.1,694.2 Q663.0,705.1 664.3,714 L664.3,720Z" fill="#429f12"/>
<path d="M489.0,720 L489.0,714 Q490.0,705.3 490.6,694.7 Q492.9,705.3 496.4,714 L496.4,720Z" fill="#55b222"/>
<path d="M860.0,720 L860.0,714 Q861.1,705.4 861.9,694.8 Q864.0,705.4 867.3,714 L867.3,720Z" fill="#46a214"/>
<path d="M700.5,720 L700.5,714 Q701.7,705.4 702.5,694.9 Q704.6,705.4 707.8,714 L707.8,720Z" fill="#429f12"/>
<path d="M759.3,720 L759.3,714 Q759.7,705.5 760.0,695.0 Q762.6,705.5 766.6,714 L766.6,720Z" fill="#4ca818"/>
<path d="M705.2,720 L705.2,714 Q707.9,705.7 709.7,695.5 Q710.8,705.7 712.5,714 L712.5,720Z" fill="#46a214"/>
<path d="M132.8,720 L132.8,714 Q135.9,705.7 138.0,695.6 Q138.8,705.7 140.0,714 L140.0,720Z" fill="#429f12"/>
<path d="M62.6,720 L62.6,714 Q65.4,705.8 67.2,695.7 Q68.3,705.8 69.8,714 L69.8,720Z" fill="#3a930e"/>
<path d="M232.1,720 L232.1,714 Q234.9,705.8 236.8,695.7 Q237.8,705.8 239.3,714 L239.3,720Z" fill="#46a214"/>
<path d="M430.9,720 L430.9,714 Q430.9,705.8 431.0,695.8 Q433.8,705.8 438.0,714 L438.0,720Z" fill="#55b222"/>
<path d="M48.6,720 L48.6,714 Q51.8,705.8 53.8,695.8 Q54.6,705.8 55.8,714 L55.8,720Z" fill="#429f12"/>
<path d="M868.7,720 L868.7,714 Q869.2,705.9 869.5,696.1 Q872.0,705.9 875.8,714 L875.8,720Z" fill="#3f9c10"/>
<path d="M648.7,720 L648.7,714 Q649.7,705.9 650.4,696.1 Q652.6,705.9 655.8,714 L655.8,720Z" fill="#3a930e"/>
<path d="M427.5,720 L427.5,714 Q430.4,706.0 432.2,696.2 Q433.2,706.0 434.7,714 L434.7,720Z" fill="#4caa1a"/>
<path d="M713.0,720 L713.0,714 Q714.8,706.0 715.9,696.3 Q717.6,706.0 720.1,714 L720.1,720Z" fill="#3a930e"/>
<path d="M129.6,720 L129.6,714 Q130.7,706.3 131.5,696.8 Q133.5,706.3 136.6,714 L136.6,720Z" fill="#3a930e"/>
<path d="M471.9,720 L471.9,714 Q473.2,706.5 474.1,697.4 Q476.0,706.5 478.9,714 L478.9,720Z" fill="#60ba2c"/>
<path d="M352.8,720 L352.8,714 Q354.8,706.6 356.1,697.5 Q357.6,706.6 359.8,714 L359.8,720Z" fill="#60ba2c"/>
<path d="M342.0,720 L342.0,714 Q343.7,706.8 344.9,698.0 Q346.5,706.8 348.9,714 L348.9,720Z" fill="#60ba2c"/>
<path d="M701.2,720 L701.2,714 Q703.7,706.9 705.4,698.3 Q706.5,706.9 708.1,714 L708.1,720Z" fill="#3f9c10"/>
<path d="M9.9,720 L9.9,714 Q11.1,707.0 12.0,698.4 Q13.9,707.0 16.7,714 L16.7,720Z" fill="#4ca818"/>
<path d="M493.2,720 L493.2,714 Q494.9,707.0 496.0,698.5 Q497.7,707.0 500.1,714 L500.1,720Z" fill="#60ba2c"/>
<path d="M-3.0,720 L-3.0,714 Q-2.1,707.2 -1.5,698.9 Q0.6,707.2 3.8,714 L3.8,720Z" fill="#4ca818"/>
<path d="M789.5,720 L789.5,714 Q790.2,707.3 790.6,699.1 Q792.9,707.3 796.2,714 L796.2,720Z" fill="#4ca818"/>
<path d="M129.4,720 L129.4,714 Q131.3,707.4 132.5,699.3 Q134.0,707.4 136.2,714 L136.2,720Z" fill="#3f9c10"/>
<path d="M478.6,720 L478.6,714 Q481.2,707.5 482.9,699.5 Q483.9,707.5 485.4,714 L485.4,720Z" fill="#60ba2c"/>
<path d="M904.3,720 L904.3,714 Q906.2,707.6 907.5,699.7 Q908.9,707.6 911.0,714 L911.0,720Z" fill="#4ca818"/>
<path d="M196.8,720 L196.8,714 Q198.3,707.8 199.4,700.1 Q201.0,707.8 203.4,714 L203.4,720Z" fill="#3f9c10"/>
<path d="M959.3,720 L959.3,714 Q962.0,707.8 963.8,700.2 Q964.7,707.8 965.9,714 L965.9,720Z" fill="#46a214"/>
<path d="M734.7,720 L734.7,714 Q737.2,708.0 739.0,700.6 Q739.9,708.0 741.3,714 L741.3,720Z" fill="#3a930e"/>
<path d="M535.2,720 L535.2,714 Q536.2,708.1 536.8,700.8 Q538.8,708.1 541.8,714 L541.8,720Z" fill="#4caa1a"/>
<path d="M720.8,720 L720.8,714 Q723.4,708.2 725.1,701.0 Q726.0,708.2 727.4,714 L727.4,720Z" fill="#429f12"/>
<path d="M601.3,720 L601.3,714 Q602.0,708.4 602.4,701.5 Q604.6,708.4 607.8,714 L607.8,720Z" fill="#4caa1a"/>
<path d="M458.7,720 L458.7,714 Q459.3,708.4 459.6,701.6 Q461.9,708.4 465.2,714 L465.2,720Z" fill="#55b222"/>
<path d="M642.5,720 L642.5,714 Q645.1,708.5 646.8,701.7 Q647.7,708.5 648.9,714 L648.9,720Z" fill="#3f9c10"/>
<path d="M854.4,720 L854.4,714 Q854.9,708.5 855.3,701.8 Q857.5,708.5 860.9,714 L860.9,720Z" fill="#3f9c10"/>
<path d="M889.9,720 L889.9,714 Q892.1,708.6 893.6,702.0 Q894.7,708.6 896.3,714 L896.3,720Z" fill="#4ca818"/>
<path d="M765.4,720 L765.4,714 Q767.4,708.8 768.8,702.5 Q770.0,708.8 771.8,714 L771.8,720Z" fill="#46a214"/>
<path d="M-5.3,720 L-5.3,714 Q-4.1,708.8 -3.3,702.5 Q-1.5,708.8 1.1,714 L1.1,720Z" fill="#46a214"/>
<path d="M848.7,720 L848.7,714 Q851.1,709.2 852.7,703.4 Q853.7,709.2 855.0,714 L855.0,720Z" fill="#3a930e"/>
<path d="M91.4,720 L91.4,714 Q92.8,709.4 93.7,703.7 Q95.2,709.4 97.6,714 L97.6,720Z" fill="#3a930e"/>
<path d="M93.1,720 L93.1,714 Q95.3,709.4 96.8,703.7 Q97.8,709.4 99.3,714 L99.3,720Z" fill="#429f12"/>
<path d="M298.3,720 L298.3,714 Q300.3,709.4 301.6,703.8 Q302.8,709.4 304.5,714 L304.5,720Z" fill="#4ca818"/>
<path d="M215.8,720 L215.8,714 Q218.0,709.8 219.4,704.6 Q220.5,709.8 222.0,714 L222.0,720Z" fill="#429f12"/>
<path d="M605.7,720 L605.7,714 Q606.4,709.9 607.0,704.8 Q608.9,709.9 611.8,714 L611.8,720Z" fill="#60ba2c"/>
<path d="M268.7,720 L268.7,714 Q270.7,710.0 272.1,705.1 Q273.1,710.0 274.8,714 L274.8,720Z" fill="#3a930e"/>
<path d="M941.5,720 L941.5,714 Q942.9,710.0 943.8,705.1 Q945.3,710.0 947.6,714 L947.6,720Z" fill="#46a214"/>
<path d="M195.5,720 L195.5,714 Q197.3,710.1 198.5,705.2 Q199.7,710.1 201.5,714 L201.5,720Z" fill="#3f9c10"/>
<path d="M353.8,720 L353.8,714 Q355.8,710.1 357.1,705.4 Q358.2,710.1 359.8,714 L359.8,720Z" fill="#60ba2c"/>
<path d="M786.9,720 L786.9,714 Q788.9,710.2 790.3,705.6 Q791.3,710.2 792.9,714 L792.9,720Z" fill="#3a930e"/>
<path d="M710.5,720 L710.5,714 Q711.8,710.2 712.6,705.7 Q714.2,710.2 716.5,714 L716.5,720Z" fill="#4ca818"/>
<defs><linearGradient id="gb" x1="0" y1="0" x2="0" y2="1"><stop offset="0" stop-color="#4ba716" stop-opacity="0"/><stop offset="0.45" stop-color="#4ba716" stop-opacity="0.9"/><stop offset="0.6" stop-color="#47a214"/><stop offset="1" stop-color="#429c10"/></linearGradient></defs>
</g>
<text x="66.00" y="652.80" font-size="14.5" fill="#262626" font-weight="400" text-anchor="start" textLength="366.0" lengthAdjust="spacingAndGlyphs">Office of the Chinese Consul General, Los Angeles (2017)</text>
<text x="464.30" y="676.25" font-size="24" fill="#1a1a1a" font-weight="400" text-anchor="start" textLength="475.5" lengthAdjust="spacingAndGlyphs">&#169; 2017 San Mateo Colleges of Silicon Valley</text>
</svg>
</body></html>
